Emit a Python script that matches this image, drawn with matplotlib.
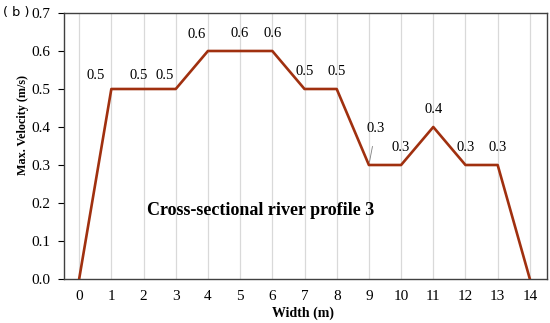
import matplotlib.pyplot as plt

# Velocity profile data
width = [0, 1, 2, 3, 4, 5, 6, 7, 8, 9, 10, 11, 12, 13, 14]
velocity = [0.0, 0.5, 0.5, 0.5, 0.6, 0.6, 0.6, 0.5, 0.5, 0.3, 0.3, 0.4, 0.3, 0.3, 0.0]
labels = ["", "0.5", "0.5", "0.5", "0.6", "0.6", "0.6", "0.5", "0.5",
          "0.3", "0.3", "0.4", "0.3", "0.3", ""]
yticks = [0.0, 0.1, 0.2, 0.3, 0.4, 0.5, 0.6, 0.7]

plt.rcParams['font.family'] = ['Liberation Serif', 'DejaVu Serif']

fig = plt.figure(figsize=(5.5, 3.23), dpi=100)
ax = fig.add_axes([0.1164, 0.1362, 0.878, 0.8236])

for x in width:
    ax.axvline(x, color='#d9d9d9', lw=0.9, zorder=0)

ax.plot(width, velocity, color='#A0300F', lw=1.9, zorder=3)

# label offsets in points (dx, dy) to label centre
offsets = {1: (-11, 9.5), 2: (-3.5, 9.5), 3: (-8, 9.5), 4: (-8, 12),
           9: (5, 26)}
for x, v, lab in zip(width, velocity, labels):
    if not lab:
        continue
    dx, dy = offsets.get(x, (0, 12.5))
    if x == 9:
        ax.annotate(lab, (x, v), xytext=(dx, dy), textcoords='offset points',
                    ha='center', va='center', fontsize=10.5,
                    arrowprops=dict(arrowstyle='-', color='#808080', lw=0.6,
                                    shrinkA=6, shrinkB=2))
    else:
        ax.annotate(lab, (x, v), xytext=(dx, dy), textcoords='offset points',
                    ha='center', va='center', fontsize=10.5)

ax.text(5.65, 0.18, "Cross-sectional river profile 3", fontsize=13,
        fontweight='bold', ha='center', va='center')

ax.set_xlim(-0.47, 14.53)
ax.set_ylim(0, 0.7)
ax.set_xticks(width)
ax.set_yticks(yticks)
ax.set_yticklabels([f"{t:.1f}" for t in yticks])
ax.tick_params(axis='x', length=0, labelsize=11, pad=8)
ax.tick_params(axis='y', length=4, labelsize=11, direction='out', pad=6)
for s in ax.spines.values():
    s.set_color('#404040')
    s.set_linewidth(1.0)

ax.set_xlabel("Width (m)", fontsize=10, fontweight='bold')
ax.set_ylabel("Max. Velocity (m/s)", fontsize=8.7, fontweight='bold')
ax.xaxis.set_label_coords(0.495, -0.103)
ax.yaxis.set_label_coords(-0.073, 0.58)

fig.text(0.006, 0.96, "( b )", fontsize=9.3, family='DejaVu Sans', va='center')

plt.savefig("out.png", dpi=100)
